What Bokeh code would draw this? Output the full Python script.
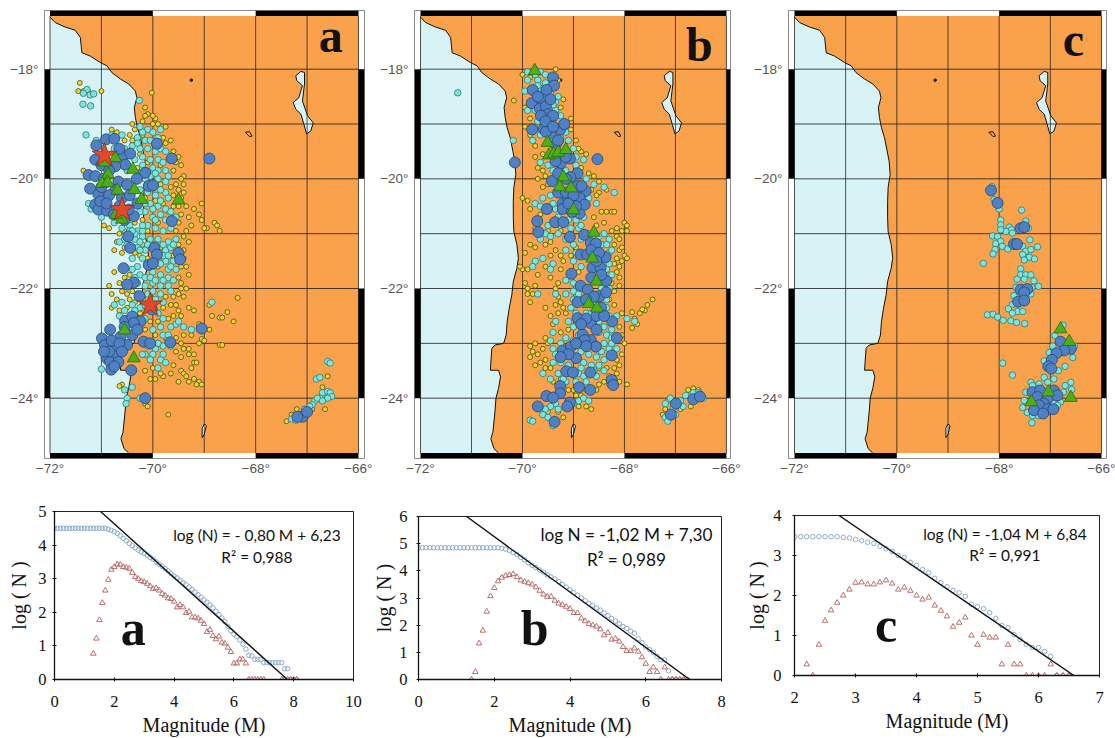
from bokeh.plotting import figure
from bokeh.layouts import row, column
from bokeh.models import FixedTicker
from bokeh.core.properties import value
from bokeh.embed import file_html
from bokeh.resources import INLINE

# ---------- map geography ----------
coast = [(-72,-17.05),(-71.90,-17.15),(-71.71,-17.23),(-71.51,-17.29),(-71.41,-17.42),(-71.38,-17.70),(-71.22,-17.76),
(-71.02,-17.88),(-70.89,-17.94),(-70.80,-18.06),(-70.63,-18.18),(-70.47,-18.27),(-70.34,-18.40),(-70.31,-18.52),
(-70.36,-18.70),(-70.34,-18.88),(-70.30,-19.07),(-70.24,-19.25),(-70.19,-19.49),(-70.15,-19.68),(-70.13,-19.92),
(-70.17,-20.16),(-70.18,-20.41),(-70.18,-20.71),(-70.17,-20.96),(-70.11,-21.20),(-70.08,-21.45),(-70.11,-21.63),
(-70.18,-21.87),(-70.21,-22.12),(-70.26,-22.36),(-70.30,-22.60),(-70.32,-22.85),(-70.37,-23.0),(-70.54,-23.03),
(-70.60,-23.09),(-70.62,-23.34),(-70.63,-23.49),(-70.47,-23.49),(-70.43,-23.61),(-70.47,-23.82),(-70.52,-24.0),
(-70.54,-24.25),(-70.58,-24.62),(-70.62,-24.74),(-70.56,-24.92),(-70.47,-25.0)]
lake = [(-67.22,-18.12),(-67.12,-18.04),(-67.05,-18.06),(-67.05,-18.27),(-67.09,-18.58),(-66.99,-18.85),(-66.88,-18.98),
(-66.93,-19.13),(-67.01,-19.18),(-67.06,-19.01),(-67.12,-18.82),(-67.22,-18.73),(-67.27,-18.61),(-67.16,-18.52),
(-67.09,-18.30),(-67.20,-18.21)]
island = [(-69.04,-24.72),(-69.0,-24.66),(-68.96,-24.5),(-69.0,-24.47),(-69.04,-24.55)]
salt_patch = [(-68.2,-19.15),(-68.12,-19.14),(-68.07,-19.22),(-68.12,-19.23)]
dot_lon = [-69.25]
dot_lat = [-18.2]

lon_ticks = [-72, -70, -68, -66]
lat_ticks = [-18, -20, -22, -24]
lon_grid = [-72, -71, -70, -69, -68, -67, -66]
lat_grid = [-18, -19, -20, -21, -22, -23, -24]

# ---------- catalog a ----------
a_yellow = [(-71.42,-18.25),(-71.45,-18.4),(-71.35,-18.4),(-71.0,-18.4),(-71.25,-18.42),(-70.02,-18.43),(-70.15,-18.7),
(-70.1,-18.82),(-69.95,-18.9),(-70.0,-18.85),(-70.15,-18.85),(-69.9,-19.0),(-71.3,-19.2),(-70.8,-19.1),(-70.7,-19.15),
(-71.35,-19.85),(-69.45,-19.75),(-69.4,-19.95),(-69.5,-19.6),(-69.6,-19.85),(-69.55,-20.1),(-69.4,-20.1),(-69.6,-20.3),
(-69.4,-20.25),(-69.5,-20.5),(-69.35,-20.5),(-69.05,-20.45),(-69.2,-20.55),(-69.1,-20.65),(-69.05,-20.75),(-68.8,-20.8),
(-68.75,-20.85),(-68.95,-20.9),(-69,-20.9),(-68.7,-20.95),(-69.3,-20.7),(-69.25,-20.85),(-69.35,-20.95),(-69.5,-20.8),
(-69.4,-21.05),(-69.4,-21.3),(-69.5,-21.2),(-69.4,-21.45),(-69.45,-21.6),(-69.5,-21.8),(-69.45,-22.0),(-69.4,-22.15),
(-68.35,-22.17),(-68.9,-22.3),(-68.85,-22.5),(-68.7,-22.53),(-68.65,-22.53),(-68.55,-22.43),(-68.43,-22.6),(-69.2,-22.4),
(-69.3,-22.35),(-69.5,-22.4),(-69.1,-22.65),(-68.9,-22.75),(-69.25,-22.85),(-69.4,-22.85),(-69.55,-22.9),(-69.1,-23.0),
(-69.05,-22.92),(-69.0,-22.95),(-68.7,-23.03),(-68.65,-23.03),(-69.3,-23.1),(-69.4,-23.1),(-69.2,-23.2),(-69.3,-23.2),
(-69.45,-23.25),(-69.55,-23.15),(-69.2,-23.35),(-69.25,-23.45),(-69.15,-23.35),(-69.45,-23.5),(-69.4,-23.55),(-69.65,-23.55),
(-69.8,-23.6),(-69.35,-23.6),(-69.3,-23.7),(-69.2,-23.65),(-69.1,-23.7),(-69.15,-23.75),(-69.05,-23.75),(-69.95,-23.65),
(-70.05,-23.65),(-69.7,-24.3),(-70.15,-24.1),(-70.1,-24.15),(-70.6,-23.75),(-70.65,-23.78),(-66.9,-24.2),(-66.65,-24.2),
(-66.6,-23.6),(-66.7,-23.8),(-67.2,-24.2),(-67.4,-24.42),(-67.3,-24.3),(-70.55,-20.95),(-70.65,-21.0),(-70.85,-20.9),
(-70.95,-20.85),(-70.7,-21.15),(-70.55,-21.25),(-70.45,-21.3),(-70.35,-21.35),(-70.6,-21.35),(-70.2,-21.2),(-70.25,-21.4),
(-70.1,-21.45),(-69.85,-21.25),(-69.8,-21.45),(-69.9,-21.6),(-69.6,-21.4),(-70.45,-21.75),(-70.55,-21.8),(-70.65,-21.9),
(-70.6,-22.05),(-70.5,-22.1),(-70.4,-22.05),(-70.45,-22.2),(-70.35,-22.25),(-70.5,-22.35),(-70.65,-22.4),(-70.8,-22.35),
(-70.25,-22.45),(-70.05,-22.6),(-69.9,-22.6),(-69.95,-22.85),(-70.15,-22.75),(-69.75,-22.9),(-69.75,-22.15),(-69.65,-22.3),
(-69.8,-22.35),(-69.6,-22.15),(-69.55,-22.3),(-70.35,-19.1),(-70.45,-19.2),(-70.55,-19.3),(-70.55,-19.55),(-70.4,-19.3),
(-70.2,-19.2),(-69.8,-19.25),(-69.75,-19.35),(-69.7,-19.65),(-69.85,-19.75),(-70.1,-19.7),(-70.25,-19.55),(-70.1,-19.85),
(-70.3,-19.8),(-70.1,-20.05),(-69.85,-20.1),(-69.65,-20.15),(-70.15,-20.35),(-69.95,-20.4),(-69.8,-20.45),(-69.6,-20.5),
(-69.7,-20.6),(-69.9,-20.8),(-70.2,-20.75),(-70.35,-20.8),(-70.1,-20.95),
(-70.4,-19.0),(-70.2,-18.95),(-70.0,-19.0),(-69.75,-19.05),(-69.65,-19.3),(-69.6,-19.5),(-69.55,-19.7),(-69.45,-20.0),(-69.5,-20.2),
(-69.45,-20.35),(-69.45,-20.65),(-69.55,-20.95),(-69.3,-21.15),(-69.35,-21.6),(-69.3,-21.75),(-69.45,-21.9),(-69.35,-22.0),
(-69.5,-22.1),(-70.75,-21.3),(-70.75,-21.7),(-70.8,-22.1),(-70.7,-22.2),(-70.85,-21.95),(-70.55,-22.55),(-69.45,-22.5),(-69.6,-22.5),
(-69.7,-22.55),(-69.45,-23.0),(-69.6,-23.0),(-69.85,-23.55),(-70.0,-23.45),(-70.15,-23.5),(-69.6,-23.4),(-69.5,-23.7)]
a_cyan = [(-71.28,-18.37),(-71.22,-18.47),(-71.35,-18.44),(-71.36,-18.64),(-71.21,-18.67),(-71.15,-18.45),(-70.26,-18.57),
(-71.3,-19.2),(-71.1,-19.3),(-71.0,-19.35),(-70.8,-19.2),(-70.25,-19.05),(-70.1,-19.1),(-70.0,-19.15),(-69.85,-19.1),
(-70.3,-19.25),(-70.15,-19.3),(-70.05,-19.3),(-69.9,-19.25),(-70.4,-19.4),(-70.25,-19.45),(-70.1,-19.45),(-69.95,-19.5),
(-69.85,-19.45),(-69.75,-19.5),(-70.2,-19.6),(-70.05,-19.65),(-69.9,-19.65),(-69.8,-19.7),(-70.35,-19.65),(-70.2,-19.75),
(-70.0,-19.8),(-69.9,-19.85),(-69.75,-19.85),(-70.5,-19.85),(-70.25,-19.9),(-70.05,-19.95),(-69.9,-20.0),(-69.75,-20.05),
(-71.25,-20.45),(-71.2,-20.55),(-71.0,-20.7),(-70.75,-20.8),(-70.6,-20.9),(-70.45,-20.85),(-70.25,-20.2),(-70.1,-20.25),
(-69.95,-20.3),(-69.75,-20.25),(-69.7,-20.35),(-70.05,-20.45),(-69.9,-20.5),(-69.75,-20.55),(-69.85,-20.65),(-70.15,-20.6),
(-70.0,-20.7),(-69.75,-20.75),(-69.55,-20.7),(-70.1,-20.85),(-69.95,-20.9),(-69.8,-20.95),(-69.65,-20.9),(-70.3,-20.95),
(-70.65,-21.15),(-70.55,-21.1),(-70.35,-21.1),(-70.2,-21.05),(-70.05,-21.1),(-69.9,-21.1),(-69.7,-21.15),(-69.55,-21.1),
(-70.3,-21.25),(-70.15,-21.3),(-69.75,-21.3),(-69.65,-21.25),(-69.6,-21.5),(-69.75,-21.5),(-69.7,-21.65),(-69.55,-21.65),
(-70.4,-21.45),(-70.3,-21.6),(-70.4,-21.65),(-70.25,-21.75),(-70.15,-21.8),(-70.0,-21.7),(-69.85,-21.75),(-69.7,-21.8),
(-69.6,-21.85),(-70.15,-21.95),(-70.0,-21.9),(-69.85,-21.95),(-69.7,-21.95),(-70.75,-22.3),(-70.6,-22.25),(-70.55,-22.4),
(-70.3,-22.1),(-70.1,-22.1),(-70.2,-22.2),(-69.95,-22.2),(-70.25,-22.35),(-69.9,-22.45),(-69.8,-22.55),(-70.15,-22.55),
(-69.55,-22.65),(-69.4,-22.7),(-69.65,-22.7),(-69.25,-22.75),(-68.85,-22.25),(-69.5,-22.6),(-70.0,-22.75),(-69.8,-22.85),
(-70.1,-23.05),(-69.95,-23.1),(-69.8,-23.05),(-69.65,-23.05),(-70.15,-23.2),(-70.0,-23.2),(-69.85,-23.3),(-69.75,-23.35),
(-69.9,-23.45),(-70.2,-23.2),(-71.0,-23.47),(-70.4,-23.8),(-70.55,-23.85),(-70.5,-24.0),(-70.52,-24.1),(-70.25,-24.0),
(-66.6,-23.33),(-66.55,-23.36),(-66.82,-23.65),(-66.75,-23.62),(-66.7,-23.9),(-66.6,-23.88),(-66.55,-23.9),(-66.52,-23.97),
(-66.6,-24.0),(-66.75,-24.0),(-66.85,-24.05),(-66.9,-24.12),(-66.95,-24.15),(-67.05,-24.2),(-66.8,-24.0),(-66.7,-24.05),
(-67.3,-24.38),(-67.22,-24.4),(-67.1,-24.3),
(-70.45,-20.95),(-70.35,-21.0),(-70.2,-20.95),(-70.5,-21.2),(-70.25,-21.15),(-70.1,-21.2),(-69.95,-21.2),(-69.8,-21.2),
(-69.6,-21.2),(-70.2,-21.45),(-70.25,-21.3),(-69.8,-21.4),(-69.7,-21.4),(-69.65,-21.6),(-69.85,-21.55),(-70.35,-21.8),
(-70.3,-21.9),(-70.05,-21.8),(-69.95,-21.85),(-69.8,-21.85),(-69.65,-22.05),(-69.85,-22.1),(-70.0,-22.05),(-70.15,-22.3),
(-69.8,-22.25),(-70.4,-22.3),(-70.35,-22.4),(-70.65,-22.5),(-69.85,-22.7),(-69.7,-22.85),(-69.9,-23.0),(-70.05,-23.3),
(-69.8,-23.2),(-69.7,-19.95),(-69.95,-19.9),(-70.15,-20.0),(-69.85,-20.2),(-70.0,-20.15),(-69.85,-20.4),(-70.15,-20.45),
(-70.0,-20.55),(-70.25,-20.6),(-69.65,-20.6),(-69.95,-20.75),(-70.2,-20.85),(-70.4,-20.95),(-70.15,-19.85),(-70.45,-19.55),
(-70.55,-19.45),(-70.3,-19.35),(-70.2,-19.15),(-70.75,-19.45),(-70.6,-19.2)]
a_blue = [(-70.91,-19.28),(-70.75,-19.27),(-71.1,-19.39),(-69.92,-19.36),(-69.63,-19.63),(-68.9,-19.63),(-70.57,-19.57),
(-70.44,-19.54),(-71.12,-19.65),(-70.54,-19.74),(-70.73,-19.77),(-71.25,-19.93),(-71.12,-19.95),(-70.15,-19.89),(-70.31,-20.0),
(-71.22,-20.18),(-71.06,-20.28),(-70.67,-20.05),(-70.5,-20.11),(-70.73,-20.2),(-70.08,-20.13),(-70.0,-20.12),(-71.12,-20.47),
(-71.06,-20.56),(-70.89,-20.58),(-70.76,-20.65),(-71.02,-20.41),(-70.37,-20.68),(-70.47,-20.56),(-69.63,-20.77),(-70.48,-21.05),
(-70.44,-21.26),(-69.97,-21.26),(-69.5,-21.35),(-69.47,-21.47),(-69.92,-21.38),(-70.08,-21.57),(-70,-21.54),(-70.57,-21.63),
(-70.37,-21.89),(-70.5,-21.93),(-70.26,-22.14),(-70.02,-22.38),(-70.54,-22.59),(-70.4,-22.51),(-70.24,-22.6),(-70.37,-22.63),
(-70.83,-22.75),(-70.99,-22.91),(-70.63,-22.88),(-70.4,-22.85),(-70.18,-22.97),(-70.05,-23.0),(-69.66,-22.98),(-69.05,-22.73),
(-70.93,-23.03),(-70.76,-23.09),(-70.5,-23.03),(-70.9,-23.27),(-70.73,-23.24),(-70.83,-23.34),(-70.67,-23.34),(-70.81,-23.48),
(-70.42,-23.49),(-70.15,-24.0),(-67.09,-24.34),(-67.0,-24.25),(-67.19,-24.34),
(-71.0,-19.75),(-70.85,-19.85),(-70.65,-19.45),(-70.95,-20.0),(-71.0,-20.15),(-70.85,-20.3),(-70.6,-20.35),(-70.45,-20.3),
(-70.9,-20.45),(-70.65,-20.5),(-70.3,-20.45),(-70.55,-20.75),(-70.8,-22.95),(-70.65,-23.0),(-70.85,-23.15),(-70.6,-23.15),
(-70.95,-23.15),(-70.75,-23.42),(-70.55,-22.7),(-70.3,-22.75)]
a_green = [(-70.73,-19.62),(-70.39,-19.83),(-70.87,-19.92),(-70.99,-20.09),(-70.88,-20.07),(-70.69,-20.21),(-70.36,-20.2),
(-70.22,-20.38),(-69.5,-20.39),(-70.6,-20.74),(-70.72,-20.65),(-70.55,-22.76),(-70.37,-23.27),(-70.94,-19.7)]
a_star = [(-70.94,-19.57),(-70.6,-20.56),(-70.05,-22.3)]

# ---------- catalog b ----------
b_yellow = [(-70.17,-18.57),(-70.0,-18.1),(-69.85,-18.15),(-69.35,-18.0),(-69.3,-18.2),(-69.2,-18.55),(-69.25,-18.7),(-69.95,-18.7),
(-69.85,-18.9),(-69.95,-19.05),(-69.75,-19.05),(-69.15,-19.05),(-68.95,-19.3),(-69.85,-19.2),(-69.75,-19.4),(-69.6,-19.55),
(-68.85,-19.5),(-68.75,-19.55),(-69.7,-19.8),(-69.6,-19.85),(-68.85,-19.8),(-68.7,-19.9),(-69.55,-19.95),(-68.6,-19.95),
(-68.5,-20.05),(-69.6,-20.15),(-69.5,-20.1),(-68.65,-20.2),(-68.5,-20.25),(-68.35,-20.2),(-70.0,-20.35),(-69.9,-20.4),
(-69.85,-20.55),(-68.45,-20.6),(-68.25,-20.6),(-68.2,-20.6),(-68.6,-20.7),(-68.55,-20.85),(-68.0,-20.8),(-67.95,-20.85),
(-67.95,-20.95),(-68.05,-20.95),(-68.15,-21.05),(-69.65,-20.65),(-69.75,-20.9),(-69.5,-20.95),(-69.45,-21.15),(-69.55,-21.2),
(-69.75,-21.25),(-69.85,-21.2),(-69.95,-21.35),(-68.2,-21.2),(-68.1,-21.3),(-68.0,-21.4),(-67.95,-21.45),(-68.15,-21.45),
(-68.05,-21.5),(-68.2,-21.55),(-70.0,-21.65),(-70.05,-21.6),(-69.9,-21.65),(-69.7,-21.75),(-69.95,-21.9),(-69.9,-22.0),
(-69.8,-22.1),(-69.85,-22.25),(-69.9,-22.1),(-69.75,-21.95),(-69.45,-21.8),(-69.3,-21.9),(-69.35,-22.0),(-68.1,-21.95),
(-68.2,-22.05),(-69.55,-22.35),(-69.35,-22.3),(-69.25,-22.25),(-69.2,-22.35),(-69.3,-22.45),(-69.15,-22.45),(-67.45,-22.2),
(-67.55,-22.3),(-67.6,-22.4),(-67.7,-22.45),(-67.65,-22.38),(-67.85,-22.43),(-68.05,-22.45),(-67.8,-22.55),(-67.75,-22.65),
(-67.85,-22.72),(-68.1,-22.7),(-68.05,-22.85),(-69.55,-22.9),(-69.75,-23.0),(-69.85,-23.05),(-69.8,-23.15),(-69.7,-23.2),
(-69.85,-23.25),(-69.6,-23.1),(-69.55,-23.3),(-69.65,-23.35),(-69.75,-23.4),(-69.55,-23.45),(-68.15,-23.3),(-68.0,-23.0),
(-68.2,-22.95),(-68.35,-23.45),(-68.2,-23.45),(-68.15,-23.55),(-68.1,-23.7),(-67.95,-23.75),(-68.4,-23.7),(-68.5,-23.75),
(-69.25,-23.65),(-69.1,-23.55),(-69.0,-23.85),(-68.85,-23.95),(-68.65,-24.2),(-68.75,-24.15),(-68.9,-24.15),(-69.3,-24.25),
(-69.5,-24.25),(-69.2,-24.35),(-67.2,-24.2),(-67.25,-24.3),(-66.75,-23.85),(-66.65,-23.82),(-66.7,-24.15),(-66.9,-24.2),
(-67.15,-24.05),(-66.55,-23.85),(-69.1,-21.1),(-68.95,-21.25),(-69.05,-21.4),(-69.2,-21.5),(-69.25,-21.65),(-68.9,-21.7),
(-68.25,-21.9),(-68.3,-22.2),(-68.2,-22.3),(-69.1,-22.75),(-69.25,-22.8),(-69.2,-23.05),(-68.5,-23.45),(-68.3,-23.6),
(-69.4,-23.7),(-69.25,-23.8),(-69.1,-23.85),
(-69.05,-18.9),(-69.05,-19.1),(-68.9,-19.45),(-69.75,-19.6),(-69.7,-20.0),(-68.55,-20.3),(-68.35,-20.6),(-68.4,-20.8),(-68.25,-20.95),
(-68.15,-20.9),(-68.1,-21.1),(-68.05,-21.25),(-68.1,-21.6),(-68.15,-21.7),(-68.1,-21.8),(-69.25,-20.95),(-69.35,-21.3),(-69.25,-21.4),
(-69.45,-21.4),(-69.55,-21.6),(-69.3,-22.15),(-69.45,-22.5),(-69.4,-22.65),(-69.5,-23.0),(-69.45,-23.45),(-68.05,-23.2),(-68.1,-23.4),
(-68.3,-23.75),(-68.55,-23.85),(-68.75,-23.85),(-68.95,-23.95)]
b_cyan = [(-71.27,-18.43),(-70.18,-19.3),(-69.9,-18.05),(-69.75,-18.1),(-69.65,-18.05),(-69.55,-18.1),(-69.9,-18.2),(-69.7,-18.2),
(-69.55,-18.25),(-69.45,-18.3),(-69.95,-18.4),(-69.65,-18.35),(-69.45,-18.45),(-69.3,-18.5),(-69.35,-18.6),(-69.9,-18.75),
(-69.75,-18.6),(-69.35,-18.75),(-69.25,-18.85),(-69.4,-18.95),(-69.7,-18.95),(-69.15,-19.15),(-69.65,-19.2),(-69.8,-19.3),
(-69.25,-19.25),(-69.1,-19.3),(-69.45,-19.35),(-69.0,-19.45),(-68.95,-19.6),(-68.8,-19.65),(-69.65,-19.7),(-69.5,-19.75),
(-68.95,-19.75),(-69.15,-19.85),(-69.4,-19.85),(-69.35,-20.1),(-68.6,-20.1),(-68.4,-20.15),(-68.2,-20.25),(-68.75,-20.0),
(-69.6,-20.35),(-69.45,-20.3),(-69.75,-20.45),(-69.65,-20.5),(-69.35,-20.55),(-68.7,-20.35),(-68.55,-20.45),(-69.4,-20.45),
(-69.1,-20.75),(-68.95,-20.75),(-68.8,-20.7),(-69.25,-20.85),(-69.05,-20.9),(-68.9,-20.9),(-69.5,-20.85),(-69.55,-21.0),
(-69.3,-21.0),(-69.45,-21.05),(-69.65,-21.1),(-68.4,-21.0),(-68.3,-21.1),(-68.45,-21.2),(-68.35,-21.2),(-68.85,-21.1),
(-69.0,-21.2),(-69.15,-21.3),(-68.95,-21.35),(-69.0,-21.5),(-68.85,-21.6),(-68.3,-21.35),(-68.3,-21.55),(-69.6,-21.45),
(-69.75,-21.5),(-69.8,-21.6),(-69.4,-21.55),(-69.45,-21.65),(-69.15,-21.85),(-69.0,-21.9),(-68.25,-21.75),(-69.0,-22.05),
(-69.15,-22.1),(-69.0,-22.2),(-68.9,-22.1),(-68.3,-22.0),(-69.35,-22.1),(-69.7,-22.1),(-68.85,-22.25),(-69.05,-22.35),
(-68.75,-22.45),(-68.95,-22.45),(-68.35,-22.35),(-68.3,-22.5),(-68.15,-22.5),(-67.95,-22.55),(-67.8,-22.6),(-69.1,-22.6),
(-69.35,-22.6),(-69.0,-22.7),(-68.85,-22.7),(-68.5,-22.6),(-68.4,-22.7),(-68.5,-22.8),(-68.35,-22.85),(-68.25,-22.75),
(-69.4,-22.8),(-69.45,-22.95),(-69.15,-22.9),(-69.0,-22.95),(-68.4,-23.0),(-68.3,-23.1),(-68.15,-23.1),(-68.45,-23.15),
(-69.4,-23.1),(-69.35,-23.2),(-69.05,-23.2),(-68.85,-23.15),(-68.7,-23.2),(-68.55,-23.25),(-68.4,-23.3),(-69.4,-23.35),
(-69.25,-23.35),(-69.1,-23.4),(-68.8,-23.35),(-68.65,-23.4),(-69.6,-23.55),(-69.3,-23.55),(-68.9,-23.55),(-68.8,-23.6),
(-68.55,-23.6),(-68.4,-23.5),(-69.15,-23.7),(-68.95,-23.7),(-68.75,-23.7),(-68.9,-24.05),(-68.8,-24.0),(-68.7,-24.05),
(-69.35,-24.1),(-69.0,-24.1),(-69.45,-24.15),(-69.3,-24.2),(-69.55,-24.2),(-69.6,-24.3),(-69.5,-24.35),(-69.85,-24.4),
(-69.8,-24.42),(-69.4,-24.5),(-67.2,-24.1),(-67.1,-24.0),(-66.9,-24.05),(-66.8,-23.95),(-66.85,-24.15),(-67.05,-24.2),
(-67.2,-24.35),(-67.15,-24.42),(-67.0,-24.3),(-66.65,-23.9),(-66.55,-23.9),(-66.45,-24.0),
(-69.15,-21.1),(-68.7,-21.0),(-68.5,-21.05),(-68.25,-21.3),(-68.35,-21.65),(-68.3,-21.85),(-68.45,-22.0),(-68.55,-22.25),(-68.35,-22.2),
(-68.65,-22.45),(-68.25,-22.9),(-68.25,-23.0),(-68.65,-23.0),(-68.9,-22.85),(-69.25,-23.0),(-68.85,-23.45),(-69.2,-23.65),(-69.45,-23.65),
(-68.5,-23.4),(-68.6,-23.5),(-69.4,-19.25),(-69.1,-20.05),(-68.95,-20.25),(-69.05,-20.45),(-69.3,-20.7),(-68.85,-20.85),(-69.7,-18.3),
(-69.6,-18.45),(-69.75,-18.75),(-69.4,-18.65),(-69.45,-19.0)]
b_blue = [(-69.4,-18.15),(-69.38,-18.3),(-69.8,-18.38),(-69.53,-18.38),(-69.61,-18.55),(-69.82,-18.62),(-69.66,-18.72),(-69.54,-18.68),
(-69.5,-18.82),(-69.64,-18.85),(-69.81,-19.1),(-69.58,-19.09),(-69.26,-19.1),(-69.18,-19.0),(-69.45,-19.17),(-69.54,-19.14),
(-69.35,-19.38),(-70.15,-19.7),(-68.53,-19.64),(-69.07,-19.63),(-69.25,-19.72),(-69.35,-19.68),(-68.92,-19.9),(-69.42,-20.04),
(-69.06,-19.97),(-68.92,-20.13),(-68.76,-20.22),(-68.84,-20.13),(-69.52,-20.55),(-69.21,-20.45),(-69.11,-20.35),(-68.88,-20.35),
(-69.21,-20.55),(-68.88,-20.63),(-68.78,-20.47),(-69.03,-20.6),(-69.71,-20.77),(-69.69,-20.97),(-69.36,-20.79),(-69.2,-20.79),
(-69.07,-21.06),(-68.79,-21.02),(-68.66,-21.17),(-68.56,-21.18),(-68.86,-21.38),(-68.73,-21.38),(-68.37,-21.43),(-68.63,-21.62),
(-68.47,-21.62),(-69.04,-21.73),(-68.36,-21.86),(-68.86,-21.95),(-68.72,-22.02),(-68.49,-22.14),(-68.36,-22.07),(-68.92,-22.25),
(-68.46,-22.35),(-68.92,-22.54),(-68.66,-22.63),(-68.24,-22.6),(-68.82,-22.84),(-68.66,-22.94),(-68.78,-22.94),(-68.15,-22.9),
(-69.21,-23.13),(-69.05,-23.06),(-68.95,-23.27),(-68.56,-23.06),(-68.25,-23.22),(-69.14,-23.51),(-69.01,-23.53),(-68.67,-23.53),
(-68.25,-23.67),(-68.22,-23.76),(-69.26,-23.78),(-68.89,-23.8),(-68.67,-23.85),(-69.26,-23.91),(-69.53,-23.96),(-69.4,-23.99),
(-69.07,-24.08),(-69.12,-24.15),(-69.7,-24.15),(-69.37,-24.43),(-66.99,-24.1),(-67.09,-24.3),(-66.65,-24.02),(-66.52,-23.97),
(-69.7,-18.5),(-69.45,-18.55),(-69.4,-18.85),(-69.55,-18.95),(-69.4,-19.05),(-69.3,-19.3),(-69.15,-19.6),(-69.3,-19.9),
(-69.15,-20.0),(-69.3,-20.25),(-69.15,-20.25),(-69.0,-20.3),(-68.95,-20.5),(-69.1,-20.45),(-68.65,-21.3),(-68.5,-21.35),
(-68.55,-21.5),(-68.45,-21.75),(-68.65,-21.8),(-68.6,-22.15),(-68.75,-22.2),(-68.55,-22.5),(-68.75,-22.55),(-68.85,-22.65),
(-68.55,-22.75),(-68.95,-23.0),(-69.1,-23.2),(-69.25,-23.25),(-68.75,-23.05),(-68.4,-22.5)]
b_green = [(-69.76,-18.03),(-69.51,-19.34),(-69.48,-19.57),(-69.39,-19.55),(-69.3,-19.52),(-69.15,-19.47),(-69.2,-19.97),(-69.27,-20.15),
(-69.05,-20.17),(-69.0,-20.57),(-68.6,-20.98),(-68.63,-21.45),(-68.55,-21.87),(-68.7,-22.28),(-68.54,-22.36)]

# ---------- catalog c ----------
c_cyan = [(-68.14,-20.14),(-68.1,-20.38),(-68.0,-20.55),(-67.56,-20.57),(-67.97,-20.75),(-67.97,-20.84),(-67.8,-20.88),(-67.76,-20.93),
(-67.87,-20.96),(-67.97,-20.93),(-68.13,-21.04),(-68.03,-21.05),(-67.74,-20.99),(-67.48,-20.77),(-67.43,-20.9),(-67.4,-21.11),
(-67.25,-21.24),(-67.97,-21.14),(-68.07,-21.18),(-67.94,-21.23),(-68.08,-21.29),(-68.12,-21.37),(-67.83,-21.28),(-67.54,-21.23),
(-67.48,-21.32),(-67.38,-21.29),(-67.54,-21.38),(-67.41,-21.43),(-67.31,-21.46),(-67.51,-21.48),(-68.31,-21.54),(-67.58,-21.64),
(-67.58,-21.75),(-67.48,-21.75),(-67.38,-21.75),(-67.65,-21.83),(-67.51,-21.83),(-67.32,-21.86),(-67.23,-21.96),(-67.36,-21.98),
(-67.67,-21.98),(-67.71,-22.13),(-67.38,-22.1),(-67.74,-22.29),(-67.82,-22.37),(-67.64,-22.42),(-67.74,-22.45),(-67.54,-22.42),
(-68.23,-22.48),(-68.12,-22.47),(-68.03,-22.52),(-67.92,-22.58),(-67.77,-22.59),(-67.66,-22.62),(-67.5,-22.64),(-66.91,-22.86),
(-66.75,-22.67),(-66.95,-23.05),(-66.53,-23.05),(-66.56,-23.26),(-67.02,-23.17),(-67.12,-23.32),(-66.71,-23.42),(-66.84,-23.5),
(-67.93,-23.36),(-67.74,-23.58),(-67.12,-23.62),(-66.93,-23.65),(-67.38,-23.71),(-66.71,-23.77),(-66.6,-23.71),(-66.58,-23.84),
(-66.74,-23.89),(-66.8,-24.07),(-67.48,-23.89),(-67.51,-24.04),(-67.54,-24.17),(-67.45,-24.26),(-67.35,-24.32),(-67.36,-24.45),
(-67.23,-24.32),(-66.93,-24.1),(-67,-23.95),(-67.35,-23.77),(-67.22,-23.74),(-67.05,-23.71),(-66.86,-24.13)]
c_blue = [(-68.16,-20.21),(-68.03,-20.44),(-67.58,-20.9),(-67.51,-20.88),(-67.71,-21.19),(-67.65,-21.19),(-67.58,-22.02),(-67.45,-22.01),
(-67.51,-22.07),(-67.63,-22.24),(-67.51,-22.22),(-66.8,-22.97),(-66.6,-23.1),(-66.73,-23.13),(-66.88,-23.18),(-66.97,-23.3),
(-67.04,-23.42),(-66.98,-23.46),(-67.35,-23.89),(-67.2,-23.86),(-67.25,-23.98),(-66.93,-23.86),(-67.05,-24.0),(-66.86,-23.95),
(-67.13,-24.1),(-67.22,-24.13),(-67.32,-24.22),(-67.05,-24.2),(-66.94,-24.2),(-67.14,-24.28)]
c_green = [(-66.8,-22.74),(-66.63,-22.97),(-67.04,-23.89),(-66.6,-23.99),(-67.37,-24.07)]

# ---------- frequency-magnitude data ----------
fa_cum_m = [x/10 for x in range(0, 82)]
fa_cum = [4.5]*18 + [4.47,4.44,4.4,4.35,4.28,4.2,4.13,4.05,3.98,3.92,3.85,3.8,3.75,3.7,3.63,3.58,3.5,3.43,3.37,3.3,3.23,3.15,
3.08,3.02,2.95,2.88,2.82,2.75,2.68,2.6,2.52,2.45,2.37,2.3,2.22,2.13,2.03,1.93,1.83,1.72,1.58,1.45,1.35,1.27,1.18,1.05,0.9,0.72,
0.7,0.6,0.6,0.6,0.5,0.5,0.5,0.5,0.5,0.5,0.5,0.32,0.32,0,0,0]
fa_inc_m = [x/10 for x in range(13, 71)] + [7.6,7.7,7.8,7.9,8.0,8.1]
fa_inc = [0.77,1.22,1.77,2.28,2.65,2.97,3.27,3.35,3.43,3.42,3.35,3.33,3.3,3.18,3.05,3.0,2.93,2.9,2.85,2.78,2.7,2.72,2.65,2.55,2.5,
2.42,2.4,2.32,2.15,2.22,2.15,1.98,2.02,1.85,1.85,1.82,1.75,1.65,1.42,1.48,1.3,1.2,1.28,1.1,1.07,0.95,0.82,0.48,0.48,0.6,0.6,0.48,
0,0,0,0,0,0,0,0,0,0,0,0]
fb_cum_m = [x/10 for x in range(0, 72)]
fb_cum = [4.85]*22 + [4.83,4.8,4.75,4.67,4.6,4.5,4.4,4.3,4.2,4.12,4.03,3.95,3.85,3.77,3.7,3.6,3.5,3.4,3.3,3.2,3.1,3.0,2.9,2.8,2.73,
2.63,2.55,2.45,2.35,2.25,2.15,2.05,1.95,1.88,1.78,1.7,1.5,1.35,1.2,1.1,1.0,0.85,0.72,0.72,0.32,0,0,0,0,0]
fb_inc_m = [x/10 for x in range(14, 71)]
fb_inc = [0,0.28,1.33,1.8,2.5,3.07,3.37,3.62,3.75,3.82,3.85,3.88,3.77,3.65,3.6,3.55,3.5,3.4,3.27,3.13,3.05,3.05,2.9,2.8,2.75,2.68,2.6,
2.45,2.45,2.25,2.15,2.05,2.0,1.95,1.85,1.63,1.72,1.47,1.5,1.4,1.2,1.05,1.05,1.15,1.03,0.82,0.58,0.28,0.45,0.28,0,0.45,0,0,0,0,0]
fc_cum_m = [x/10 for x in range(20, 66)]
fc_cum = [3.47]*8 + [3.45,3.44,3.4,3.37,3.33,3.3,3.23,3.17,3.1,3.0,2.95,2.83,2.75,2.65,2.57,2.43,2.32,2.22,2.13,2.07,1.98,1.78,1.72,1.67,
1.57,1.43,1.25,1.2,1.02,0.9,0.78,0.7,0.7,0.6,0.48,0,0,0]
fc_inc_m = [x/10 for x in range(22, 66)]
fc_inc = [0.28,0,0.77,1.37,1.63,1.82,2.0,2.15,2.32,2.33,2.28,2.28,2.33,2.38,2.3,2.15,2.2,2.12,2.0,1.9,1.95,1.75,1.62,1.48,1.22,1.32,1.45,
1.0,0.77,1.02,0.95,0.95,0.28,0.77,0.28,0.28,0,0,0,0,0.28,0,0,0]
fit_a_x, fit_a_y = [1.54, 7.79], [5, 0]
fit_b_x, fit_b_y = [1.27, 7.16], [6, 0]
fit_c_x, fit_c_y = [2.73, 6.58], [4, 0]

SERIF = value("Liberation Serif")


def pts(p, data, marker, size, fill, line, width=0.8):
    if data:
        p.scatter([d[0] for d in data], [d[1] for d in data], marker=marker, size=size,
                  fill_color=fill, line_color=line, line_width=width)


def make_map(width, left, right, xr, letter, lx, ly, yellow, cyan, blue, green, stars):
    p = figure(width=width, height=478, x_range=xr, y_range=(-25.10, -16.93), output_backend="svg",
               toolbar_location=None, min_border_left=left, min_border_right=right,
               min_border_top=10, min_border_bottom=20, background_fill_color="white")
    p.grid.visible = False
    p.outline_line_color = "#8a8a8a"
    p.outline_line_width = 1
    for ax, ticks in ((p.xaxis[0], lon_ticks), (p.yaxis[0], lat_ticks)):
        ax.ticker = FixedTicker(ticks=ticks)
        ax.major_label_overrides = {t: f"\u2212{abs(t)}\u00b0" for t in ticks}
        ax.axis_line_color = None
        ax.major_tick_line_color = None
        ax.major_tick_out = 0
        ax.major_tick_in = 0
        ax.minor_tick_line_color = None
        ax.major_label_text_font = "Liberation Sans"
        ax.major_label_text_font_size = "13.5px"
        ax.major_label_text_color = "#555555"
    p.xaxis.major_label_standoff = 2
    p.yaxis.major_label_standoff = 6
    # land / ocean
    p.quad(left=[-72], right=[-66], top=[-17.03], bottom=[-25.0], fill_color="#F9A24B", line_color=None)
    p.patch([-72] + [c[0] for c in coast] + [-72], [-17.03] + [c[1] for c in coast] + [-25.0],
            fill_color="#D8F3F6", line_color=None)
    p.line([c[0] for c in coast], [c[1] for c in coast], line_color="#111111", line_width=1)
    p.patch([c[0] for c in lake], [c[1] for c in lake], fill_color="#D8F3F6", line_color="#111111", line_width=1)
    p.patch([c[0] for c in island], [c[1] for c in island], fill_color="white", line_color="#111111", line_width=1)
    p.patch([c[0] for c in salt_patch], [c[1] for c in salt_patch], fill_color="#F9A24B", line_color="#111111", line_width=1)
    p.scatter(dot_lon, dot_lat, size=2.5, color="#111111")
    # grid
    p.segment(lon_grid, [-25.0]*len(lon_grid), lon_grid, [-17.03]*len(lon_grid), line_color="#1c1c1c", line_width=1, line_alpha=0.75)
    p.segment([-72]*len(lat_grid), lat_grid, [-66]*len(lat_grid), lat_grid, line_color="#1c1c1c", line_width=1, line_alpha=0.8)
    # checker border
    p.quad(left=[-72, -68, -72, -68], right=[-70, -66, -70, -66], top=[-16.93, -16.93, -25.0, -25.0],
           bottom=[-17.03, -17.03, -25.10, -25.10], fill_color="black", line_color=None)
    xl, xh = xr
    p.quad(left=[xl, xl, -66, -66], right=[-72, -72, xh, xh], top=[-18, -22, -18, -22],
           bottom=[-20, -24, -20, -24], fill_color="black", line_color=None)
    # events
    pts(p, yellow, "circle", 5, "#F0D62E", "#4c4a18")
    pts(p, cyan, "circle", 6.5, "#7FE5DB", "#2c7878")
    pts(p, blue, "circle", 11, "#5080C4", "#24476e")
    pts(p, green, "triangle", 13, "#4FAE14", "#2c6a10")
    pts(p, stars, "star", 26, "#E2492A", "#8a3018")
    p.text([lx], [ly], text=[letter], text_font=SERIF, text_font_style="bold", text_font_size="48px",
           text_align="center", text_baseline="alphabetic", text_color="#111111")
    return p


def make_fm(width, left, right, top, bottom, xr, yr, xticks, yticks, std_y, lab_y, cum, inc, fit, eq, eq_size, letter, lx, ly):
    p = figure(width=width, height=260, x_range=xr, y_range=yr, output_backend="svg", toolbar_location=None,
               min_border_left=left, min_border_right=right, min_border_top=top, min_border_bottom=bottom,
               x_axis_label="Magnitude (M)", y_axis_label="log ( N )")
    p.grid.visible = False
    p.outline_line_color = "#222222"
    p.outline_line_width = 1
    p.xaxis.ticker = FixedTicker(ticks=xticks)
    p.yaxis.ticker = FixedTicker(ticks=yticks)
    for ax in (p.xaxis[0], p.yaxis[0]):
        ax.minor_tick_line_color = None
        ax.axis_line_color = "#111111"
        ax.axis_line_width = 1.3
        ax.major_tick_line_color = "#111111"
        ax.major_tick_in = 2
        ax.major_tick_out = 2
        ax.major_label_text_font = "Liberation Serif"
        ax.major_label_text_font_size = "16.5px"
        ax.major_label_text_color = "#111111"
        ax.axis_label_text_font = "Liberation Serif"
        ax.axis_label_text_font_style = "normal"
        ax.axis_label_text_font_size = "20px"
        ax.axis_label_text_color = "#111111"
        ax.axis_label_text_line_height = 1.0
    p.xaxis.major_label_standoff = 14
    p.xaxis.axis_label_standoff = 4
    p.yaxis.major_label_standoff = std_y
    p.yaxis.axis_label_standoff = lab_y
    p.scatter(cum[0], cum[1], marker="circle", size=4.5, fill_color="white", fill_alpha=0.25,
              line_color="#7FA3C4", line_width=0.9)
    p.scatter(inc[0], inc[1], marker="triangle", size=5.5, fill_color="white", fill_alpha=0.25,
              line_color="#B2605C", line_width=0.9)
    p.line(fit[0], fit[1], line_color="#111111", line_width=1.4)
    for tx, ty, s in eq:
        p.text([tx], [ty], text=[s], text_font=value("Lato"), text_font_size=eq_size,
               text_align="center", text_baseline="middle", text_color="#111111")
    p.text([lx], [ly], text=[letter], text_font=SERIF, text_font_style="bold", text_font_size="50px",
           text_align="center", text_baseline="alphabetic", text_color="#111111")
    return p


m_a = make_map(372, 44, 8, (-72.107, -65.883), "a", -66.54, -17.39, a_yellow, a_cyan, a_blue, a_green, a_star)
m_b = make_map(373, 42, 15, (-72.118, -65.92), "b", -66.53, -17.55, b_yellow, b_cyan, b_blue, b_green, [])
m_c = make_map(370, 43, 9, (-72.117, -65.902), "c", -66.55, -17.46, [], c_cyan, c_blue, c_green, [])

f_a = make_fm(370, 54, 17, 33, 59, (0, 10), (0, 5), [0, 2, 4, 6, 8, 10], [0, 1, 2, 3, 4, 5], 6, 5,
              (fa_cum_m, fa_cum), (fa_inc_m, fa_inc), (fit_a_x, fit_a_y),
              [(6.77, 4.29, "log (N) = - 0,80 M + 6,23"), (6.77, 3.64, "R\u00b2 = 0,988")], "15.5px", "a", 2.63, 1.52)
f_b = make_fm(373, 46, 22, 38, 59, (0, 8), (0, 6), [0, 2, 4, 6, 8], [0, 1, 2, 3, 4, 5, 6], 9, 1,
              (fb_cum_m, fb_cum), (fb_inc_m, fb_inc), (fit_b_x, fit_b_y),
              [(5.49, 5.35, "log N = -1,02 M + 7,30"), (5.49, 4.41, "R\u00b2 = 0,989")], "17.2px", "b", 3.07, 1.9)
f_c = make_fm(372, 48, 16, 37, 63, (2, 7), (0, 4), [2, 3, 4, 5, 6, 7], [0, 1, 2, 3, 4], 11, 2,
              (fc_cum_m, fc_cum), (fc_inc_m, fc_inc), (fit_c_x, fit_c_y),
              [(5.45, 3.54, "log (N) = -1,04 M + 6,84"), (5.45, 3.01, "R\u00b2 = 0,991")], "15.5px", "c", 3.5, 1.26)

# each panel sits in its own column so that its frame is not aligned with its neighbours'
page = column(row(column(m_a), column(m_b), column(m_c), spacing=0),
              row(column(f_a), column(f_b), column(f_c), spacing=0), spacing=0)
open("out.html", "w").write(file_html(page, INLINE))
